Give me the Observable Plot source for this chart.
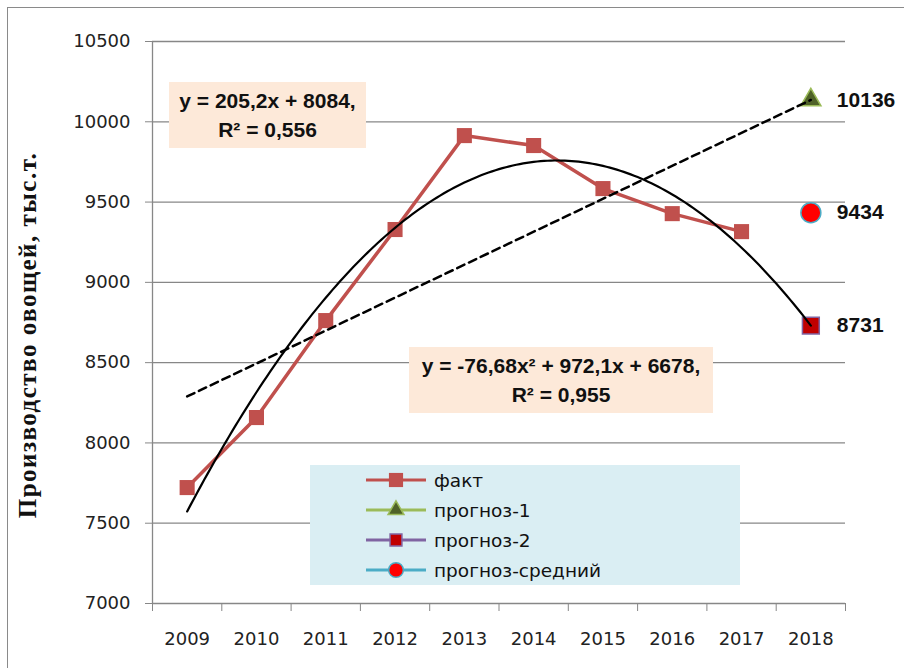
<!DOCTYPE html>
<html><head><meta charset="utf-8">
<script src="https://cdn.jsdelivr.net/npm/d3@7"></script>
<script src="https://cdn.jsdelivr.net/npm/@observablehq/plot@0.6"></script>
<style>
body{margin:0;background:#fff;}
#wrap{position:relative;width:904px;height:668px;overflow:hidden;background:#fff;}
.frame{position:absolute;left:7px;top:7px;width:1000px;height:1000px;border:1.5px solid #8a8a8a;pointer-events:none;}
#chart{position:absolute;left:0;top:0;}
.eq{position:absolute;background:#FDE9D9;font:bold 21px "Liberation Sans",sans-serif;text-align:center;color:#111;display:flex;flex-direction:column;justify-content:center;line-height:29px;}
.legend{position:absolute;left:310px;top:465px;width:430px;height:120px;background:#DAEEF3;}
.lrow{position:absolute;left:56px;height:30px;display:flex;align-items:center;font:18.5px "DejaVu Sans",sans-serif;color:#111;}
.lrow svg{margin-right:6px;}
</style></head>
<body>
<div id="wrap">
  <div id="chart"></div>
  <div class="eq" style="left:169px;top:82px;width:197px;height:66px;"><div>y = 205,2x + 8084,</div><div>R² = 0,556</div></div>
  <div class="eq" style="left:409px;top:347px;width:304px;height:66px;"><div>y = -76,68x² + 972,1x + 6678,</div><div>R² = 0,955</div></div>
  <div class="legend" id="legend"></div>
  <div class="frame"></div>
</div>
<script>
const years = [2009, 2010, 2011, 2012, 2013, 2014, 2015, 2016, 2017];
const fact = [7722, 8158, 8762, 9329, 9914, 9852, 9584, 9428, 9316];
const forecastYear = 2018;
const forecastNames = ["прогноз-1", "прогноз-2", "прогноз-средний"];
const forecastValues = [10136, 8731, 9434];
const xTickYears = [2009, 2010, 2011, 2012, 2013, 2014, 2015, 2016, 2017, 2018];
const yTicks = [7000, 7500, 8000, 8500, 9000, 9500, 10000, 10500];
const linCoef = [205.2, 8084];            // y = a*t + b, t = year - 2008
const quadCoef = [-76.68, 972.1, 6678];   // y = a*t^2 + b*t + c
const legendNames = ["факт", "прогноз-1", "прогноз-2", "прогноз-средний"];
const yTitle = "Производство овощей, тыс.т.";

const factData = years.map((y, i) => ({year: y, value: fact[i]}));
const fcData = forecastNames.map((n, i) => ({name: n, year: forecastYear, value: forecastValues[i]}));
const t0 = years[0] - 2008, t1 = forecastYear - 2008;
const linData = [t0, t1].map(t => ({year: 2008 + t, value: linCoef[0] * t + linCoef[1]}));
const quadData = d3.range(t0, t1 + 0.001, 0.05).map(t => ({year: 2008 + t, value: quadCoef[0]*t*t + quadCoef[1]*t + quadCoef[2]}));
const bounds = d3.range(xTickYears[0] - 0.5, xTickYears[xTickYears.length-1] + 1, 1);

const gridC = "#878787";
const fcStyle = [
  {symbol: "triangle", r: 7.5, fill: "#4F6228", stroke: "#9BBB59"},
  {symbol: "square", r: 9.5, fill: "#C00000", stroke: "#8064A2"},
  {symbol: "circle", r: 10, fill: "#FF0000", stroke: "#4BACC6"}
];

const chart = Plot.plot({
  width: 904, height: 668,
  marginLeft: 152, marginRight: 59, marginTop: 41, marginBottom: 65,
  x: {type: "linear", domain: [bounds[0], bounds[bounds.length-1]], label: null},
  y: {domain: [7000, 10500], label: null},
  style: {fontFamily: "'DejaVu Sans', sans-serif", background: "transparent"},
  marks: [
    Plot.ruleY(yTicks.filter(v => v > 7000), {stroke: gridC, strokeWidth: 1.3}),
    Plot.ruleX([bounds[0]], {stroke: gridC, strokeWidth: 1.3}),
    Plot.ruleY([7000], {stroke: gridC, strokeWidth: 1.3}),
    Plot.axisY(yTicks, {tickSize: 7, tickPadding: 15, stroke: gridC, fill: "#222", fontSize: 18, label: null, tickFormat: d => String(d)}),
    Plot.axisX(bounds, {tickSize: 8, stroke: gridC, label: null, tickFormat: () => ""}),
    Plot.axisX(xTickYears, {tickSize: 0, tickPadding: 29, fill: "#222", fontSize: 18, label: null, tickFormat: d => String(d)}),
    Plot.line(factData, {x: "year", y: "value", stroke: "#C0504D", strokeWidth: 3.5}),
    Plot.dot(factData, {x: "year", y: "value", symbol: "square", r: 8.5, fill: "#C0504D"}),
    ...fcStyle.map((s, i) => Plot.dot([fcData[i]], {x: "year", y: "value", symbol: s.symbol, r: s.r, fill: s.fill, stroke: s.stroke, strokeWidth: 1.5})),
    Plot.line(linData, {x: "year", y: "value", stroke: "#000", strokeWidth: 2.5, strokeDasharray: "8,5"}),
    Plot.line(quadData, {x: "year", y: "value", stroke: "#000", strokeWidth: 2.2, curve: "linear"}),
    Plot.text(fcData, {x: "year", y: "value", text: d => String(d.value), dx: 26, textAnchor: "start", fontWeight: "bold", fontSize: 21, fontFamily: "'Liberation Sans', sans-serif", fill: "#111"})
  ]
});
d3.select(chart).append("text")
  .attr("transform", "translate(30,335) rotate(-90)")
  .attr("text-anchor", "middle").attr("dominant-baseline", "middle")
  .style("font", "bold 25px 'Liberation Serif', serif").style("letter-spacing", "1.5px")
  .attr("fill", "#111").text(yTitle);
document.getElementById("chart").appendChild(chart);

// legend
const legColors = ["#C0504D", "#9BBB59", "#8064A2", "#4BACC6"];
const legMarks = [
  {symbol: d3.symbolSquare, size: 200, fill: "#C0504D", stroke: "none"},
  {symbol: d3.symbolTriangle, size: 110, fill: "#4F6228", stroke: "#9BBB59"},
  {symbol: d3.symbolSquare, size: 140, fill: "#C00000", stroke: "#8064A2"},
  {symbol: d3.symbolCircle, size: 170, fill: "#FF0000", stroke: "#4BACC6"}
];
const leg = d3.select("#legend");
legendNames.forEach((n, i) => {
  const row = leg.append("div").attr("class", "lrow").style("top", (i * 30) + "px");
  const s = row.append("svg").attr("width", 62).attr("height", 30);
  s.append("line").attr("x1", 0).attr("x2", 60).attr("y1", 15).attr("y2", 15).attr("stroke", legColors[i]).attr("stroke-width", 3);
  s.append("path").attr("transform", "translate(30,15)").attr("d", d3.symbol(legMarks[i].symbol, legMarks[i].size)())
    .attr("fill", legMarks[i].fill).attr("stroke", legMarks[i].stroke).attr("stroke-width", 1.5);
  row.append("span").text(n);
});
</script>
</body></html>
